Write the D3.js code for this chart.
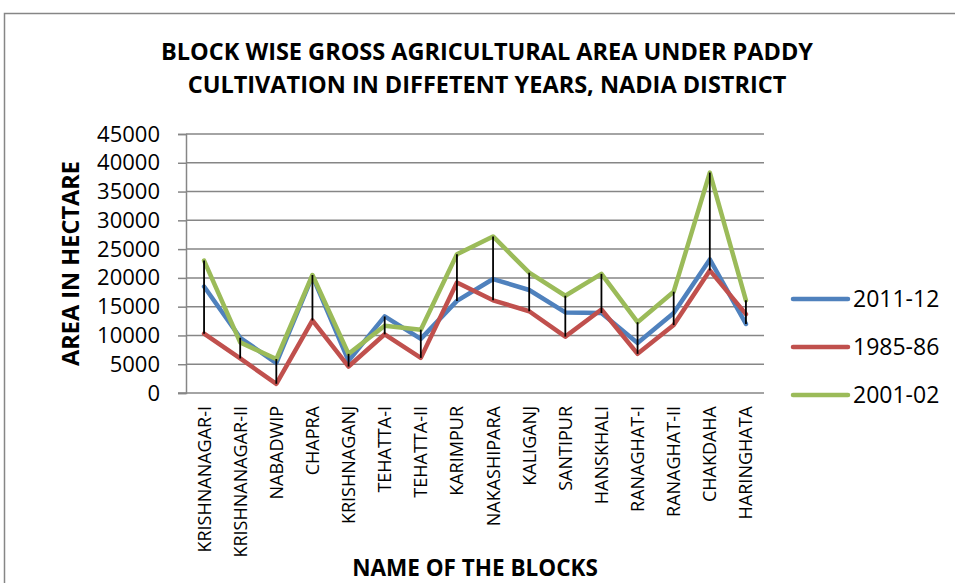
<!DOCTYPE html>
<html>
<head>
<meta charset="utf-8">
<script src="https://cdn.jsdelivr.net/npm/d3@7"></script>
<style>
  html, body { margin: 0; padding: 0; background: #fff; }
  svg { display: block; font-family: "Open Sans", "Noto Sans", sans-serif; }
</style>
</head>
<body>
<svg id="chart" width="955" height="583"></svg>
<script>
// Blocks of Nadia district
const blocks = ["KRISHNANAGAR-I", "KRISHNANAGAR-II", "NABADWIP", "CHAPRA", "KRISHNAGANJ",
  "TEHATTA-I", "TEHATTA-II", "KARIMPUR", "NAKASHIPARA", "KALIGANJ", "SANTIPUR",
  "HANSKHALI", "RANAGHAT-I", "RANAGHAT-II", "CHAKDAHA", "HARINGHATA"];

// Gross area under paddy (hectare)
const area201112 = [18500, 9600, 5200, 20300, 5600, 13300, 9400, 16000, 19800, 17900, 14000, 13900, 8700, 13900, 23200, 12000];
const area198586 = [10300, 6000, 1600, 12600, 4600, 10200, 6100, 19200, 16100, 14200, 9800, 14500, 6800, 11800, 21300, 13700];
const area200102 = [23000, 8800, 5900, 20500, 6800, 11700, 11000, 24100, 27200, 20900, 16900, 20700, 12300, 17600, 38300, 16100];

const seriesNames = ["2011-12", "1985-86", "2001-02"];
const seriesColors = ["#4F81BD", "#C0504D", "#9BBB59"];
const seriesValues = [area201112, area198586, area200102];

const yTicks = [0, 5000, 10000, 15000, 20000, 25000, 30000, 35000, 40000, 45000];

const svg = d3.select("#chart");
const plot = { left: 186, right: 764, top: 134, bottom: 393 };

// Outer chart frame
svg.append("rect")
  .attr("x", 4.5).attr("y", 13.5)
  .attr("width", 1000).attr("height", 1000)
  .attr("fill", "none").attr("stroke", "#868686").attr("stroke-width", 1.5);

// Title
const title = svg.append("text")
  .attr("text-anchor", "middle")
  .attr("font-weight", "bold").attr("font-size", 23.5)
  .attr("fill", "#000");
title.append("tspan").attr("x", 487).attr("y", 59.5)
  .text("BLOCK WISE GROSS AGRICULTURAL AREA UNDER PADDY");
title.append("tspan").attr("x", 487).attr("y", 93)
  .text("CULTIVATION IN DIFFETENT YEARS, NADIA DISTRICT");

const x = d3.scaleBand().domain(blocks).range([plot.left, plot.right]).padding(0);
const cx = d => x(d) + x.bandwidth() / 2;
const y = d3.scaleLinear().domain([0, 45000]).range([plot.bottom, plot.top]);

// Horizontal gridlines
svg.append("g")
  .selectAll("line")
  .data(yTicks.filter(t => t > 0))
  .join("line")
  .attr("x1", plot.left).attr("x2", plot.right)
  .attr("y1", d => y(d)).attr("y2", d => y(d))
  .attr("stroke", "#868686").attr("stroke-width", 1.5);

// Y axis
const yAxis = svg.append("g")
  .attr("transform", `translate(${plot.left},0)`)
  .call(d3.axisLeft(y).tickValues(yTicks).tickSize(8).tickPadding(18).tickFormat(d3.format("d")));
yAxis.select(".domain").attr("stroke", "#868686").attr("stroke-width", 1.5);
yAxis.selectAll(".tick line").attr("stroke", "#868686").attr("stroke-width", 1.5);
yAxis.selectAll(".tick text")
  .attr("font-size", 22).attr("font-family", "'Open Sans', sans-serif").attr("fill", "#000");

// X axis baseline
svg.append("line")
  .attr("x1", plot.left - 8).attr("x2", plot.right)
  .attr("y1", plot.bottom).attr("y2", plot.bottom)
  .attr("stroke", "#868686").attr("stroke-width", 1.5);

// Category labels, rotated
svg.append("g")
  .selectAll("text")
  .data(blocks)
  .join("text")
  .attr("transform", d => `translate(${cx(d) + 6.5},406) rotate(-90)`)
  .attr("text-anchor", "end")
  .attr("font-size", 18)
  .attr("fill", "#000")
  .text(d => d);

// Axis titles
svg.append("text")
  .attr("x", 475).attr("y", 576)
  .attr("text-anchor", "middle")
  .attr("font-weight", "bold").attr("font-size", 22.5)
  .text("NAME OF THE BLOCKS");

svg.append("text")
  .attr("transform", `translate(79,${(plot.top + plot.bottom) / 2}) rotate(-90)`)
  .attr("text-anchor", "middle")
  .attr("font-weight", "bold").attr("font-size", 23.5)
  .text("AREA IN HECTARE");

// Series lines
const line = d3.line().x((d, i) => cx(blocks[i])).y(d => y(d));
svg.append("g")
  .selectAll("path")
  .data(seriesValues)
  .join("path")
  .attr("d", d => line(d))
  .attr("fill", "none")
  .attr("stroke", (d, i) => seriesColors[i])
  .attr("stroke-width", 4.5)
  .attr("stroke-linejoin", "round")
  .attr("stroke-linecap", "round");

// High-low lines between the lowest and highest value of each block
svg.append("g")
  .selectAll("line")
  .data(blocks)
  .join("line")
  .attr("x1", d => cx(d)).attr("x2", d => cx(d))
  .attr("y1", (d, i) => y(d3.max(seriesValues, s => s[i])))
  .attr("y2", (d, i) => y(d3.min(seriesValues, s => s[i])))
  .attr("stroke", "#000").attr("stroke-width", 1.8);

// Legend
const legend = svg.append("g")
  .selectAll("g")
  .data(seriesNames)
  .join("g")
  .attr("transform", (d, i) => `translate(793,${299 + i * 48})`);
legend.append("line")
  .attr("x1", 0).attr("x2", 55).attr("y1", 0).attr("y2", 0)
  .attr("stroke", (d, i) => seriesColors[i])
  .attr("stroke-width", 4.5).attr("stroke-linecap", "round");
legend.append("text")
  .attr("x", 60).attr("y", 8)
  .attr("font-size", 23).attr("fill", "#000")
  .text(d => d);
</script>
</body>
</html>
